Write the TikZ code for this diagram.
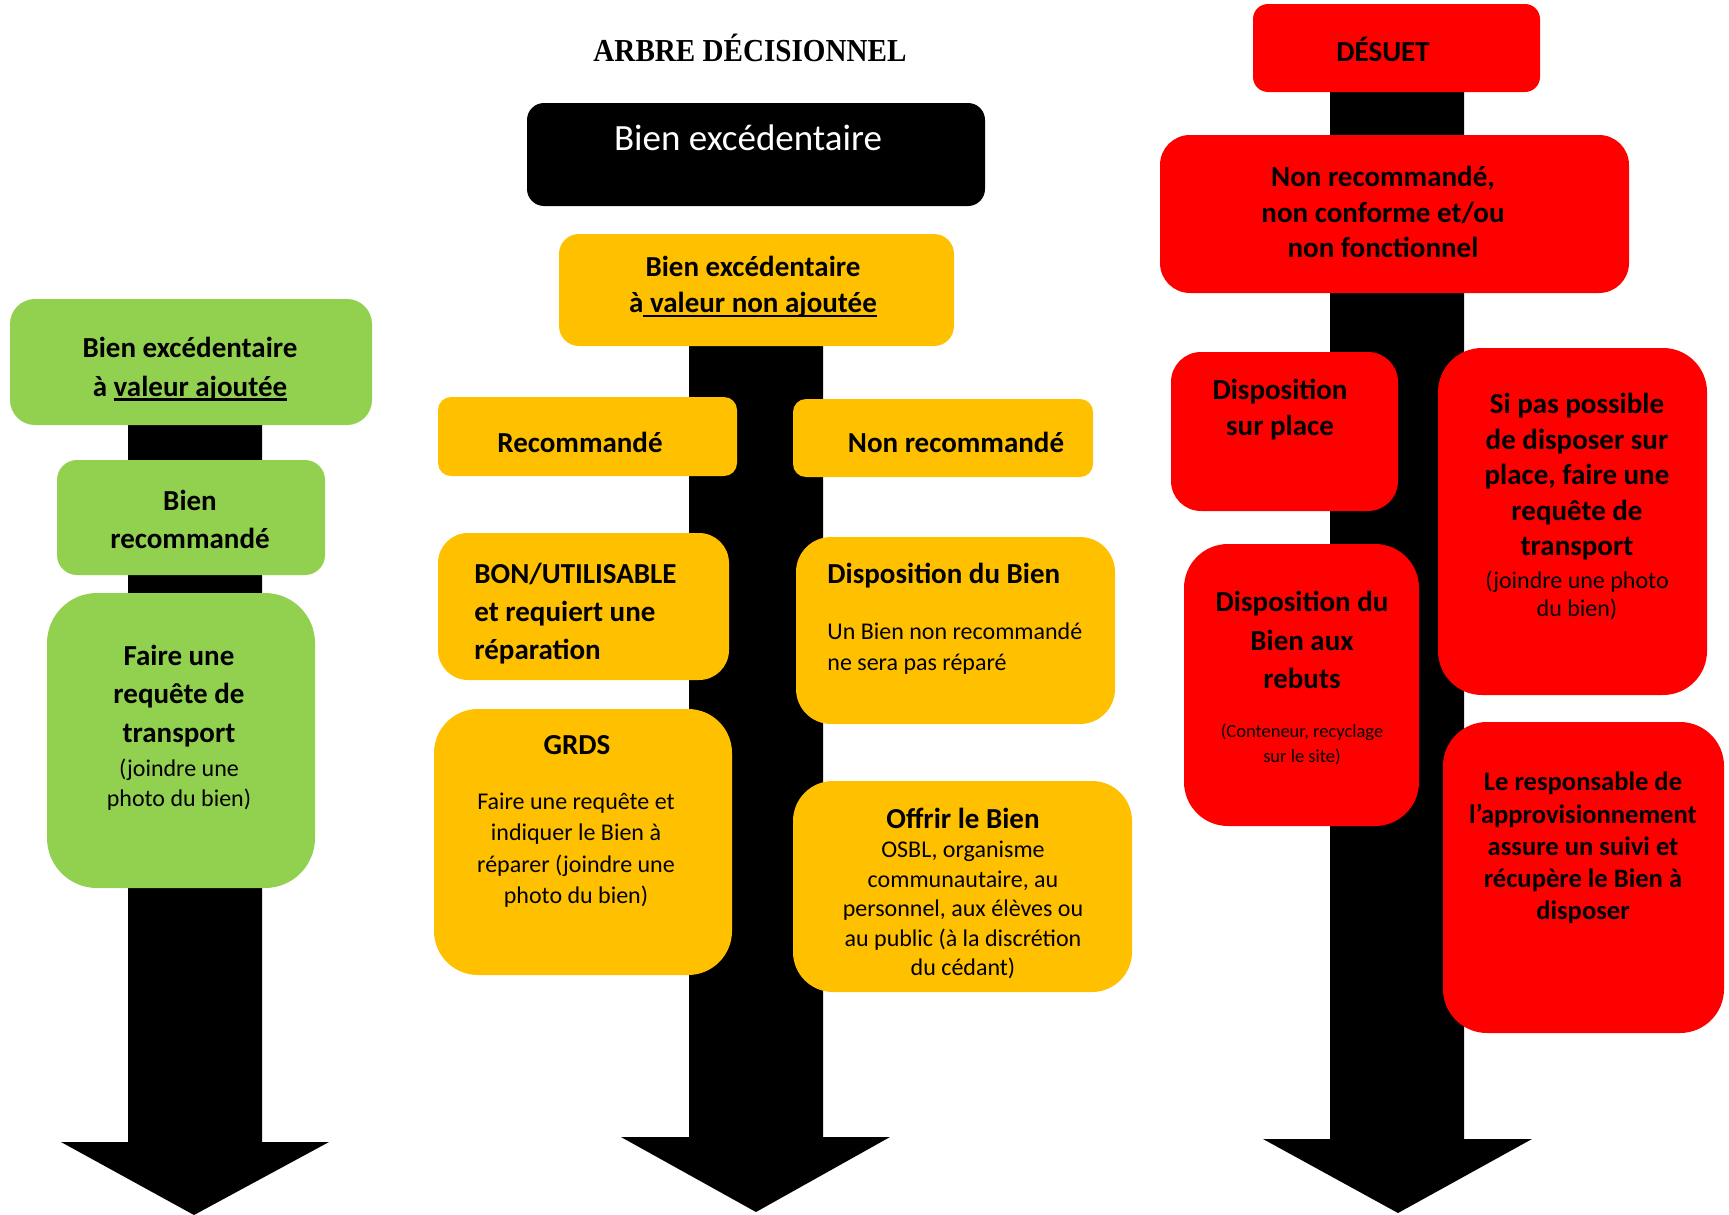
\documentclass[tikz,border=0pt]{standalone}
\usepackage{fontspec}
\setmainfont{Carlito}
\newfontfamily\titlefont[FakeStretch=0.91]{Liberation Serif}
\definecolor{vert}{HTML}{92D050}
\definecolor{jaune}{HTML}{FFC000}
\definecolor{rouge}{HTML}{FF0000}
\newsavebox\soulbox
\newcommand\souligne[1]{\sbox\soulbox{#1}\rlap{\rule[-2.3pt]{\wd\soulbox}{1.2pt}}\usebox\soulbox}
\tikzset{
	vertbox/.style={fill=vert, rounded corners=#1},
	jaunebox/.style={fill=jaune, rounded corners=#1},
	rougebox/.style={fill=rouge, rounded corners=#1},
	gras/.style={font=\bfseries\fontsize{14.5}{#1}\selectfont, align=center, inner sep=0pt},
	gras/.default=19,
	maigre/.style={font=\fontsize{12}{#1}\selectfont, align=center, inner sep=0pt},
	maigre/.default=15,
}

\begin{document}
\begin{tikzpicture}[x=0.5pt, y=-0.5pt]
		%%%%% START %%%%%
		\useasboundingbox (0,0) rectangle (1729,1215);
		
		% les trois fleches
		\fill[black] (128,380) -- (262,380) -- (262,1142) -- (329,1142) -- (194,1215) -- (61,1142) -- (128,1142) -- cycle;
		\fill[black] (689,300) -- (823,300) -- (823,1137) -- (890,1137) -- (756,1212) -- (621,1137) -- (689,1137) -- cycle;
		\fill[black] (1330,60) -- (1464,60) -- (1464,1139) -- (1532,1139) -- (1398,1213) -- (1263,1139) -- (1330,1139) -- cycle;
		
		\node[font=\titlefont\bfseries\fontsize{16}{19}\selectfont, inner sep=0pt] (titre) at (750,48) {ARBRE DÉCISIONNEL};
		
		\fill[black, rounded corners=8.5pt] (527,103) rectangle (985,206);
		\node[text=white, font=\fontsize{18.5}{22}\selectfont, inner sep=0pt] (surplus) at (748,138) {Bien excédentaire};
		
		% colonne verte
		\fill[vertbox=12.5pt] (10,299) rectangle (372,425);
		\node[gras=19.5] (ajoutee) at (190,369) {Bien excédentaire\\à \souligne{valeur ajoutée}};
		
		\fill[vertbox=10pt] (57,460) rectangle (325,575);
		\node[gras] (recvert) at (190,519) {Bien\\recommandé};
		
		\fill[vertbox=25pt] (47,593) rectangle (315,888);
		\node[gras=19.25] (transvert) at (179,696) {Faire une\\requête de\\transport};
		\node[maigre] (photovert) at (179,785) {(joindre une\\photo du bien)};
		
		% colonne jaune
		\fill[jaunebox=10pt] (559,234) rectangle (954,346);
		\node[gras=18] (nonajoutee) at (753,287) {Bien excédentaire\\à\souligne{ valeur non ajoutée}};
		
		\fill[jaunebox=6.5pt] (438,397) rectangle (737,476);
		\node[gras] (rec) at (580,442) {Recommandé};
		\fill[jaunebox=6.5pt] (793,399) rectangle (1093,477);
		\node[gras] (nonrec) at (956,442) {Non recommandé};
		
		\fill[jaunebox=15pt] (438,533) rectangle (729,680);
		\node[gras, align=left, anchor=west] (bon) at (474,614) {BON/UTILISABLE\\et requiert une\\réparation};
		
		\fill[jaunebox=17.5pt] (796,537) rectangle (1115,724);
		\node[gras, anchor=west] (dispo) at (827,576) {Disposition du Bien};
		\node[maigre=15.5, align=left, anchor=west] (nonrepare) at (827,649) {Un Bien non recommandé\\ne sera pas réparé};
		
		\fill[jaunebox=22pt] (434,709) rectangle (732,975);
		\node[gras] (grds) at (577,745) {GRDS};
		\node[maigre=15.7] (reparer) at (576,850) {Faire une requête et\\indiquer le Bien à\\réparer (joindre une\\photo du bien)};
		
		\fill[jaunebox=20pt] (793,781) rectangle (1132,992);
		\node[gras] (offrir) at (963,818) {Offrir le Bien};
		\node[maigre=14.75] (osbl) at (963,910) {OSBL, organisme\\communautaire, au\\personnel, aux élèves ou\\au public (à la discrétion\\du cédant)};
		
		% colonne rouge
		\fill[rougebox=7.5pt] (1253,4) rectangle (1540,92);
		\node[gras] (desuet) at (1383,49) {DÉSUET};
		
		\fill[rougebox=15pt] (1160,135) rectangle (1629,293);
		\node[gras=17.75] (nonconf) at (1383,212) {Non recommandé,\\non conforme et/ou\\non fonctionnel};
		
		\fill[rougebox=15pt] (1171,352) rectangle (1398,511);
		\node[gras=18] (surplace) at (1280,410) {Disposition\\sur place};
		
		\fill[rougebox=22pt] (1438,348) rectangle (1707,695);
		\node[gras=17.75] (transrouge) at (1577,477) {Si pas possible\\de disposer sur\\place, faire une\\requête de\\transport};
		\node[maigre=14] (photorouge) at (1577,595) {(joindre une photo\\du bien)};
		
		\fill[rougebox=22pt] (1184,544) rectangle (1419,826);
		\node[gras=19.25] (rebuts) at (1302,640) {Disposition du\\Bien aux\\rebuts};
		\node[font=\fontsize{9.25}{12.5}\selectfont, align=center, inner sep=0pt] (conteneur) at (1302,745) {(Conteneur, recyclage\\sur le site)};
		
		\fill[rougebox=22pt] (1443,722) rectangle (1724,1033);
		\node[font=\bfseries\fontsize{13.3}{16.1}\selectfont, align=center, inner sep=0pt] (appro) at (1583,848) {Le responsable de\\l’approvisionnement\\assure un suivi et\\récupère le Bien à\\disposer};
		
		%%%%% END %%%%%
\end{tikzpicture}
\end{document}
